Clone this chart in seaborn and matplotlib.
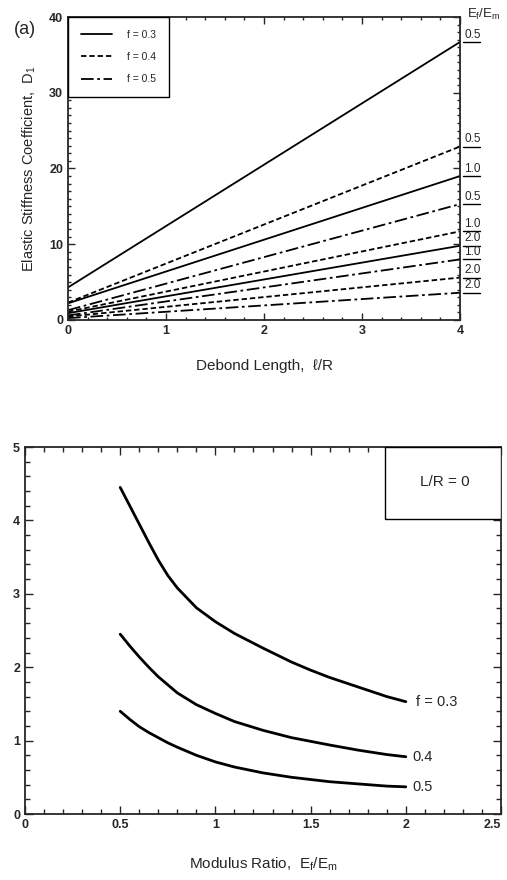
import numpy as np
import pandas as pd
import matplotlib
matplotlib.use("Agg")
import matplotlib.pyplot as plt
import matplotlib.transforms as mtransforms
from matplotlib.ticker import MultipleLocator
from matplotlib.patches import Rectangle
from matplotlib.lines import Line2D
import seaborn as sns

# ---------------- data ----------------
# Panel (a): D1 vs debond length l/R (straight lines, start/end values)
debond_x = [0.0, 4.0]
f_values = ["f = 0.3", "f = 0.4", "f = 0.5"]
ratio_labels = ["0.5", "1.0", "2.0"]
d1_f03 = {"0.5": [4.3, 36.7], "1.0": [2.2, 19.0], "2.0": [0.9, 9.8]}
d1_f04 = {"0.5": [2.3, 22.9], "1.0": [1.1, 11.7], "2.0": [0.45, 5.6]}
d1_f05 = {"0.5": [1.3, 15.3], "1.0": [0.6, 8.0], "2.0": [0.25, 3.6]}

# Panel (b): L/R = 0, D1 vs modulus ratio
mod_ratio = [0.5, 0.55, 0.6, 0.65, 0.7, 0.75, 0.8, 0.9, 1.0, 1.1, 1.25, 1.4, 1.5, 1.6, 1.75, 1.9, 2.0]
b_f03 = [4.45, 4.20, 3.95, 3.70, 3.46, 3.25, 3.08, 2.81, 2.62, 2.46, 2.26, 2.07, 1.96, 1.86, 1.73, 1.60, 1.53]
b_f04 = [2.45, 2.29, 2.14, 2.00, 1.87, 1.76, 1.65, 1.49, 1.37, 1.26, 1.14, 1.04, 0.99, 0.94, 0.87, 0.81, 0.78]
b_f05 = [1.40, 1.29, 1.19, 1.11, 1.04, 0.97, 0.91, 0.80, 0.71, 0.64, 0.56, 0.50, 0.47, 0.44, 0.41, 0.38, 0.37]
b_labels = ["f = 0.3", "0.4", "0.5"]

# ---------------- style ----------------
sns.set_theme(style="ticks")
plt.rcParams["font.family"] = ["Liberation Sans", "DejaVu Sans"]
plt.rcParams["mathtext.default"] = "regular"
plt.rcParams["axes.linewidth"] = 1.3
plt.rcParams["xtick.direction"] = "in"
plt.rcParams["ytick.direction"] = "in"

fig = plt.figure(figsize=(5.07, 8.8), dpi=100)
W, H = 507, 880
axa = fig.add_axes([68 / W, 1 - 320 / H, (460 - 68) / W, (320 - 17) / H])
axb = fig.add_axes([25 / W, 1 - 814 / H, (501 - 25) / W, (814 - 447) / H])

# ---------------- panel (a) ----------------
styles = {"f = 0.3": "-", "f = 0.4": (0, (3, 1.6)), "f = 0.5": (0, (7, 2, 1.5, 2))}
rows = []
for f, dd in zip(f_values, [d1_f03, d1_f04, d1_f05]):
    for r in ratio_labels:
        for x, y in zip(debond_x, dd[r]):
            rows.append({"x": x, "y": y, "f": f, "ratio": r})
dfa = pd.DataFrame(rows)

for f in f_values:
    for r in ratio_labels:
        sub = dfa[(dfa.f == f) & (dfa.ratio == r)]
        sns.lineplot(data=sub, x="x", y="y", ax=axa, color="black", lw=1.3,
                     linestyle=styles[f], legend=False)

axa.set_xlim(0, 4)
axa.set_ylim(0, 40)
axa.xaxis.set_major_locator(MultipleLocator(1))
axa.xaxis.set_minor_locator(MultipleLocator(0.2))
axa.yaxis.set_major_locator(MultipleLocator(10))
axa.yaxis.set_minor_locator(MultipleLocator(1))
axa.tick_params(which="both", top=True, right=True, direction="in", width=1.0)
axa.tick_params(which="major", length=5, labelsize=9)
axa.tick_params(which="minor", length=2.5)
for lab in axa.get_xticklabels() + axa.get_yticklabels():
    lab.set_fontweight("bold")
axa.set_xlabel("Debond Length,  ℓ/R", fontsize=11, labelpad=16)
axa.set_ylabel("Elastic Stiffness Coefficient,  D$_1$", fontsize=10.5, labelpad=8)

handles = [Line2D([], [], color="black", lw=1.3, linestyle=styles[f]) for f in f_values]
leg = axa.legend(handles, f_values, loc="upper left", borderaxespad=0, fontsize=7.5,
                 handlelength=3.0, handletextpad=1.5, labelspacing=1.2,
                 borderpad=1.2, fancybox=False, framealpha=1)
leg.get_frame().set_edgecolor("black")
leg.get_frame().set_linewidth(1.0)

# end labels (underlined) to the right of panel (a)
trans = mtransforms.blended_transform_factory(axa.transAxes, axa.transData)
for f, dd in zip(f_values, [d1_f03, d1_f04, d1_f05]):
    for r in ratio_labels:
        yend = dd[r][1]
        axa.annotate(r, xy=(1.0, yend), xycoords=trans, xytext=(3, 1),
                     textcoords="offset points", fontsize=8.5, ha="left",
                     va="bottom", annotation_clip=False)
        axa.plot([1.007, 1.05], [yend, yend], transform=trans, color="black",
                 lw=1.0, clip_on=False)

fig.text(14 / W, 1 - 29 / H, "(a)", fontsize=13, va="center", ha="left")
fig.text(467 / W, 1 - 14 / H, "E$_f$/E$_m$", fontsize=9.5, va="center", ha="left")

# ---------------- panel (b) ----------------
n = len(mod_ratio)
dfb = pd.DataFrame({
    "x": mod_ratio * 3,
    "y": b_f03 + b_f04 + b_f05,
    "f": [b_labels[0]] * n + [b_labels[1]] * n + [b_labels[2]] * n,
})
sns.lineplot(data=dfb, x="x", y="y", units="f", estimator=None, ax=axb,
             color="black", lw=2.0, legend=False)
for lab, ys in zip(b_labels, [b_f03, b_f04, b_f05]):
    axb.annotate(lab, xy=(mod_ratio[-1], ys[-1]), xytext=(7 if lab.startswith("f") else 5, 0),
                 textcoords="offset points", fontsize=10.5, va="center", ha="left")

axb.set_xlim(0, 2.5)
axb.set_ylim(0, 5)
axb.xaxis.set_minor_locator(MultipleLocator(0.1))
axb.yaxis.set_major_locator(MultipleLocator(1))
axb.yaxis.set_minor_locator(MultipleLocator(0.2))
axb.set_xticks([0, 0.5, 1, 1.5, 2, 2.5])
axb.set_xticklabels(["0", "0.5", "1", "1.5", "2", "2.5"])
axb.tick_params(which="both", top=True, right=True, direction="in", width=1.0)
axb.tick_params(which="major", length=6, labelsize=9)
axb.tick_params(which="minor", length=3.5)
for lab in axb.get_xticklabels() + axb.get_yticklabels():
    lab.set_fontweight("bold")
# keep the last tick label inside the figure
last = axb.get_xticklabels()[-1]
last.set_transform(last.get_transform() + mtransforms.ScaledTranslation(-6 / 72, 0, fig.dpi_scale_trans))
axb.set_xlabel("Modulus Ratio,  E$_f$/E$_m$", fontsize=11, labelpad=18)
axb.set_ylabel("")

axb.add_patch(Rectangle((0.756, 0.804), 0.244, 0.196, transform=axb.transAxes,
                        facecolor="white", edgecolor="black", lw=1.0, zorder=5))
axb.text(0.882, 0.905, "L/R = 0", transform=axb.transAxes, fontsize=11,
         ha="center", va="center", zorder=6)

fig.savefig("out.png", dpi=100)
